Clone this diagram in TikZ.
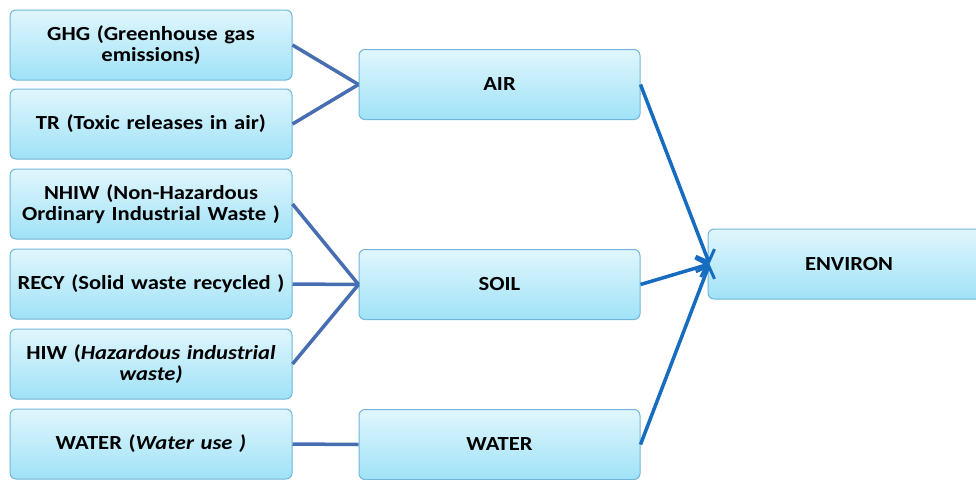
\documentclass[tikz,border=0pt]{standalone}
\usepackage{fontspec}
\setmainfont{Carlito}[FakeStretch=1.13]
\usepackage{tikz}
\usetikzlibrary{arrows.meta}
\definecolor{boxtop}{RGB}{224, 246, 253}
\definecolor{boxbottom}{RGB}{160, 226, 247}
\definecolor{boxline}{RGB}{112, 182, 216}
\definecolor{linkblue}{RGB}{72, 110, 178}
\definecolor{arrowblue}{RGB}{22, 108, 190}
\tikzset{
    box/.style={rounded corners=6pt,draw=boxline,line width=1pt,top color=boxtop,bottom color=boxbottom,
        minimum height=70pt,align=center,inner sep=2pt,font=\bfseries\fontsize{20}{20.5}\selectfont},
    srcbox/.style={box,minimum width=282pt,text width=276pt},
    midbox/.style={box,minimum width=281pt},
    link/.style={draw=linkblue,line width=3.5pt},
    arrowlink/.style={draw=arrowblue,line width=3.5pt,-{Straight Barb[length=10pt,width=20pt,line width=3pt]}}
}
\begin{document}
\begin{tikzpicture}[x=1pt,y=-1pt]
        \useasboundingbox (0,0) rectangle (976,479);
        % sources
        \node[srcbox] (ghg) at (151,45) {GHG (Greenhouse gas\\emissions)};
        \node[srcbox] (tr) at (151,124) {TR (Toxic releases in air)};
        \node[srcbox] (nhiw) at (151,204) {NHIW (Non-Hazardous\\Ordinary Industrial Waste )};
        \node[srcbox] (recy) at (151,284) {RECY (Solid waste recycled )};
        \node[srcbox] (hiw) at (151,364) {HIW (\textit{Hazardous industrial}\\\textit{waste)}};
        \node[srcbox] (wuse) at (151,444) {WATER (\textit{Water use )}};
        % media
        \node[midbox] (air) at (499.5,84.5) {AIR};
        \node[midbox] (soil) at (499.5,284.5) {SOIL};
        \node[midbox] (water) at (499.5,444.5) {WATER};
        % index
        \node[box,minimum width=282pt] (environ) at (849,264) {ENVIRON};
        % connectors
        \foreach \s/\t in {ghg/air,tr/air,nhiw/soil,recy/soil,hiw/soil,wuse/water}
            \draw[link] (\s.east) -- (\t.west);
        \foreach \s in {air,soil,water}
            \draw[arrowlink] (\s.east) -- ([xshift=2pt]environ.west);
    \end{tikzpicture}
\end{document}
